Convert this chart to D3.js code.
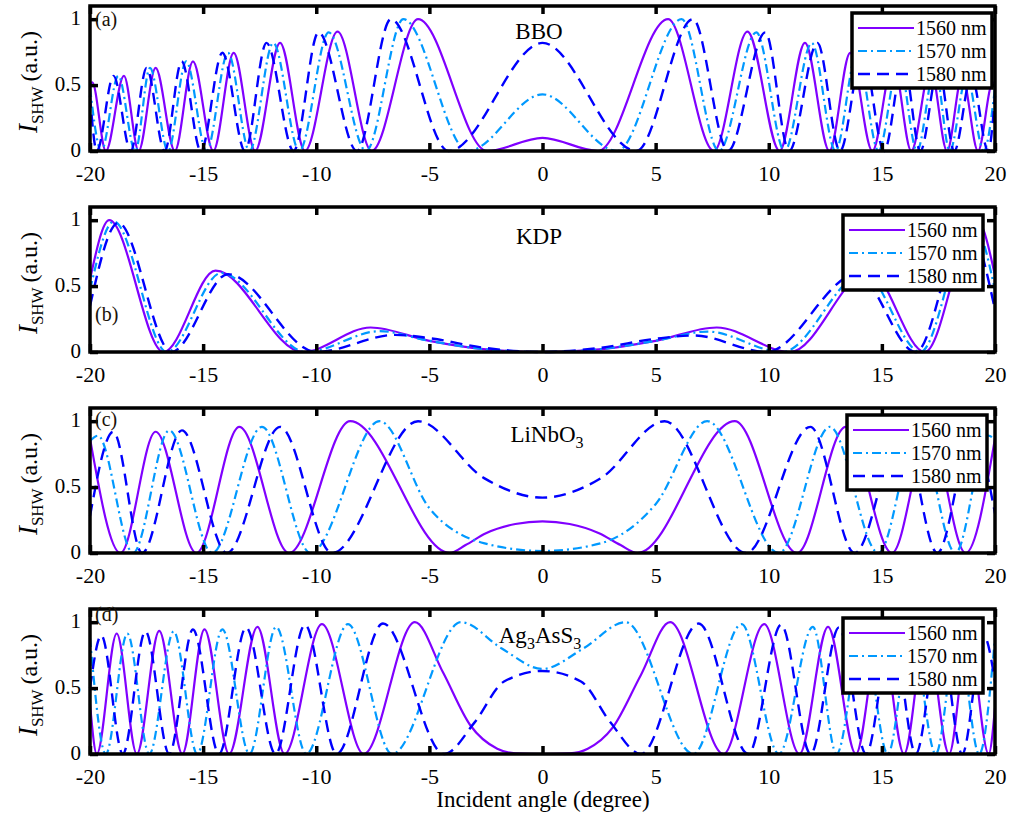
<!DOCTYPE html>
<html>
<head>
<meta charset="utf-8">
<script src="https://cdn.jsdelivr.net/npm/d3@7"></script>
<style>
  html, body { margin: 0; padding: 0; background: #fff; }
  svg { display: block; font-family: "Liberation Serif", "Times New Roman", serif; }
</style>
</head>
<body>
<svg id="chart" width="1020" height="819"></svg>
<script>
// ---- data: incident angle (degree) vs normalised SH intensity ----
const wavelengths = ["1560 nm", "1570 nm", "1580 nm"];
const xTicks = [-20, -15, -10, -5, 0, 5, 10, 15, 20];
const yTicks = [0, 0.5, 1];
const panelTags = ["(a)", "(b)", "(c)", "(d)"];

// (a) BBO
const bbo1560 = [[-20,0.51],[-19.9,0.52],[-19.3,0],[-18.5,0.57],[-17.85,0],[-17.1,0.63],[-16.25,0],[-15.45,0.68],[-14.55,0],[-13.65,0.745],[-12.7,0],[-11.6,0.82],[-10.5,0],[-9.06,0.906],[-7.55,0],[-5.5,1.0],[-2.45,0],[0,0.1],[2.45,0],[5.55,1.0],[7.58,0],[9.06,0.906],[10.48,0],[11.6,0.82],[12.68,0],[13.6,0.745],[14.58,0],[15.5,0.68],[16.3,0],[17.15,0.63],[17.88,0],[18.55,0.57],[19.25,0],[19.9,0.52],[20,0.51]];
const bbo1570 = [[-20,0.48],[-19.5,0],[-18.75,0.57],[-18.0,0],[-17.35,0.63],[-16.55,0],[-15.75,0.68],[-14.85,0],[-13.9,0.745],[-12.95,0],[-11.9,0.82],[-10.75,0],[-9.45,0.9],[-7.8,0],[-6.15,1.0],[-3.3,0],[0,0.43],[3.3,0],[6.15,1.0],[7.8,0],[9.45,0.9],[10.7,0],[11.9,0.82],[12.95,0],[13.9,0.745],[14.85,0],[15.75,0.68],[16.55,0],[17.35,0.63],[18.0,0],[18.75,0.57],[19.5,0],[20,0.48]];
const bbo1580 = [[-20,0.42],[-19.7,0],[-18.96,0.57],[-18.2,0],[-17.5,0.63],[-16.7,0],[-15.95,0.68],[-15.1,0],[-14.15,0.745],[-13.15,0],[-12.2,0.82],[-11.0,0],[-9.9,0.9],[-8.2,0],[-6.7,1.0],[-4.15,0],[0,0.82],[4.15,0],[6.65,1.0],[8.2,0],[9.85,0.9],[10.9,0],[12.15,0.82],[13.15,0],[14.15,0.745],[15.1,0],[15.95,0.68],[16.7,0],[17.5,0.63],[18.2,0],[18.96,0.57],[19.7,0],[20,0.42]];

// (b) KDP
const kdp1560 = [[-20,0.55],[-19.15,1.0],[-16.75,0],[-14.45,0.617],[-10.6,0],[-7.6,0.186],[-5,0.085],[-2.5,0.02],[0,0],[2.5,0.02],[5,0.085],[7.7,0.186],[10.95,0],[14.45,0.617],[16.9,0],[19.2,1.0],[20,0.58]];
const kdp1570 = [[-20,0.47],[-18.95,0.99],[-16.6,0],[-14.2,0.6],[-10.45,0],[-7.2,0.158],[-5,0.085],[-2.5,0.02],[0,0],[2.5,0.02],[5,0.085],[7.3,0.155],[10.6,0],[14.2,0.6],[16.7,0],[19.0,0.99],[20,0.47]];
const kdp1580 = [[-20,0.35],[-18.75,0.98],[-16.4,0],[-13.9,0.59],[-10.0,0],[-6.5,0.13],[-5,0.105],[-2.5,0.03],[0,0],[2.5,0.03],[5,0.1],[6.7,0.125],[9.9,0],[13.9,0.59],[16.5,0],[18.75,0.98],[20,0.32]];

// (c) LiNbO3
const lnb1560 = [[-20,0.87],[-18.65,0],[-17.1,0.92],[-15.3,0],[-13.4,0.957],[-11.2,0],[-8.5,1.0],[-4.1,0],[-3.4,0.06],[-2.5,0.15],[-1.2,0.22],[0,0.24],[1.2,0.22],[2.5,0.15],[3.45,0.06],[4.2,0],[8.5,1.0],[11.25,0],[13.4,0.957],[15.45,0],[17.1,0.92],[18.7,0],[20,0.87]];
const lnb1570 = [[-20,0.85],[-19.65,0.89],[-18.1,0],[-16.5,0.93],[-14.6,0],[-12.4,0.957],[-10.25,0],[-7.2,1.0],[-5,0.34],[-2.6,0.075],[0,0.015],[2.6,0.075],[5,0.37],[7.28,1.0],[10.45,0],[12.7,0.957],[14.85,0],[16.6,0.93],[18.25,0],[19.7,0.89],[20,0.86]];
const lnb1580 = [[-20,0.28],[-18.97,0.92],[-17.7,0],[-15.94,0.93],[-13.95,0],[-11.6,0.957],[-9.3,0],[-5.5,1.0],[-2.6,0.57],[0,0.42],[2.6,0.57],[5.4,1.0],[9.0,0],[11.84,0.957],[13.8,0],[15.9,0.93],[17.45,0],[19.0,0.9],[20,0.3]];

// (d) Ag3AsS3
const pst1560 = [[-20,0.38],[-19.7,0],[-18.82,0.914],[-17.93,0],[-16.94,0.934],[-15.92,0],[-14.94,0.946],[-13.85,0],[-12.6,0.964],[-11.4,0],[-9.75,0.985],[-7.9,0],[-5.64,1.0],[-4.4,0.62],[-3.2,0.22],[-2.0,0.04],[-1.2,0.005],[0,0],[1.2,0.005],[2.0,0.04],[3.1,0.2],[4.35,0.6],[5.64,1.0],[8.0,0],[9.8,0.985],[11.36,0],[12.62,0.964],[13.85,0],[14.94,0.946],[15.98,0],[16.96,0.934],[17.97,0],[18.82,0.914],[19.72,0],[20,0.35]];
const pst1570 = [[-20,0.88],[-19.3,0],[-18.35,0.914],[-17.38,0],[-16.3,0.93],[-15.26,0],[-14.15,0.946],[-12.95,0],[-11.77,0.964],[-10.44,0],[-8.6,0.985],[-6.65,0],[-3.6,1.0],[-1.8,0.8],[0,0.645],[1.8,0.8],[3.67,1.0],[6.67,0],[8.8,0.985],[10.45,0],[11.95,0.964],[13.0,0],[14.15,0.946],[15.26,0],[16.3,0.93],[17.38,0],[18.35,0.914],[19.3,0],[20,0.88]];
const pst1580 = [[-20,0.5],[-19.5,0.9],[-18.55,0],[-17.55,0.93],[-16.5,0],[-15.45,0.945],[-14.3,0],[-13.1,0.96],[-11.8,0],[-10.5,0.98],[-9.1,0],[-7.05,0.99],[-4.35,0],[-3.0,0.24],[-1.7,0.55],[0,0.63],[1.7,0.55],[3.0,0.24],[4.35,0],[6.9,0.99],[9.1,0],[10.55,0.98],[11.85,0],[13.1,0.96],[14.3,0],[15.45,0.945],[16.5,0],[17.55,0.93],[18.55,0],[19.5,0.9],[20,0.55]];

const crystals = [
  { name: [["BBO"]], series: [bbo1560, bbo1570, bbo1580] },
  { name: [["KDP"]], series: [kdp1560, kdp1570, kdp1580] },
  { name: [["LiNbO"], ["3", "sub"]], series: [lnb1560, lnb1570, lnb1580] },
  { name: [["Ag"], ["3", "sub"], ["AsS"], ["3", "sub"]], series: [pst1560, pst1570, pst1580] }
];

// ---- layout and styles ----
const plotLeft = 90, plotRight = 995, panelH = 145;
const panelTops = [6, 207, 408, 609];
const legendPos = [[852, 7], [843, 8], [847, 7], [843, 9]];
const tagPos = [[95, 20], [95, 114], [95, 18], [95, 12]];
const titlePos = [[539, 33], [539, 37], [547, 34], [540, 34]];
const lineStyles = [
  { color: "#8000FF", dash: null, width: 2.2 },
  { color: "#0099FF", dash: "9,4,2,4", width: 2.2 },
  { color: "#0000FF", dash: "12,7", width: 2.4 }
];

const svg = d3.select("#chart");
const x = d3.scaleLinear().domain([-20, 20]).range([plotLeft, plotRight]);

crystals.forEach((c, i) => {
  const top = panelTops[i];
  const y = d3.scaleLinear().domain([0, 1.1]).range([top + panelH, top]);
  const g = svg.append("g");

  // curves
  const line = d3.line().x(d => x(d[0])).y(d => y(d[1])).curve(d3.curveMonotoneX);
  c.series.forEach((s, k) => {
    const st = lineStyles[k];
    g.append("path")
      .attr("d", line(s))
      .attr("fill", "none")
      .attr("stroke", st.color)
      .attr("stroke-width", st.width)
      .attr("stroke-dasharray", st.dash);
  });

  // axes with inward ticks on all four sides
  g.append("g").attr("class", "xb").attr("transform", `translate(0,${top + panelH})`)
    .call(d3.axisBottom(x).tickValues(xTicks).tickSizeInner(-8).tickSizeOuter(0).tickPadding(14).tickFormat(d => String(d)));
  g.append("g").attr("class", "yl").attr("transform", `translate(${plotLeft},0)`)
    .call(d3.axisLeft(y).tickValues(yTicks).tickSizeInner(-8).tickSizeOuter(0).tickPadding(9).tickFormat(d => String(d)));
  g.append("g").attr("transform", `translate(0,${top})`)
    .call(d3.axisTop(x).tickValues(xTicks).tickSizeInner(-8).tickSizeOuter(0).tickFormat(""));
  g.append("g").attr("transform", `translate(${plotRight},0)`)
    .call(d3.axisRight(y).tickValues(yTicks).tickSizeInner(-8).tickSizeOuter(0).tickFormat(""));
  g.selectAll(".domain").remove();
  g.selectAll(".tick line").attr("stroke", "#000").attr("stroke-width", 3.5);
  g.selectAll(".tick text").attr("fill", "#000")
    .attr("font-family", "'Liberation Serif', 'Times New Roman', serif");
  g.selectAll(".xb .tick text").attr("font-size", 22);
  g.selectAll(".yl .tick text").attr("font-size", 21).attr("dy", "0.27em");

  // frame
  g.append("rect")
    .attr("x", plotLeft).attr("y", top)
    .attr("width", plotRight - plotLeft).attr("height", panelH)
    .attr("fill", "none").attr("stroke", "#000").attr("stroke-width", 3.5);

  // y-axis label: I_SHW (a.u.)
  const yl = g.append("text")
    .attr("transform", `translate(37,${top + 76}) rotate(-90)`)
    .attr("text-anchor", "middle").attr("font-size", 24).attr("fill", "#000");
  yl.append("tspan").attr("font-style", "italic").attr("font-size", 27).text("I");
  yl.append("tspan").attr("font-size", 17).attr("dy", 6).text("SHW");
  yl.append("tspan").attr("dy", -6).text("\u2009(a.u.)");

  // panel tag
  g.append("text").attr("x", tagPos[i][0]).attr("y", top + tagPos[i][1])
    .attr("font-size", 20).attr("fill", "#1a1208").text(panelTags[i]);

  // crystal name
  const t = g.append("text").attr("x", titlePos[i][0]).attr("y", top + titlePos[i][1])
    .attr("text-anchor", "middle").attr("font-size", 23).attr("fill", "#000");
  let sub = false;
  c.name.forEach(part => {
    const isSub = part[1] === "sub";
    const ts = t.append("tspan").text(part[0]);
    if (isSub) ts.attr("font-size", 16).attr("dy", 6);
    else if (sub) ts.attr("dy", -6);
    sub = isSub;
  });

  // legend
  const [lx, ly] = legendPos[i];
  const lg = g.append("g").attr("transform", `translate(${lx},${top + ly})`);
  lg.append("rect").attr("width", 140).attr("height", 75)
    .attr("fill", "#fff").attr("stroke", "#000").attr("stroke-width", 3.5);
  wavelengths.forEach((w, k) => {
    const st = lineStyles[k];
    const ry = 15 + k * 23;
    lg.append("line").attr("x1", 6).attr("x2", 62).attr("y1", ry).attr("y2", ry)
      .attr("stroke", st.color).attr("stroke-width", st.width).attr("stroke-dasharray", st.dash);
    lg.append("text").attr("x", 64).attr("y", ry + 7).attr("font-size", 20).attr("fill", "#000").text(w);
  });
});

// shared x-axis title
svg.append("text").attr("x", 543).attr("y", 807).attr("text-anchor", "middle")
  .attr("font-size", 23).attr("fill", "#000").text("Incident angle (degree)");
</script>
</body>
</html>
